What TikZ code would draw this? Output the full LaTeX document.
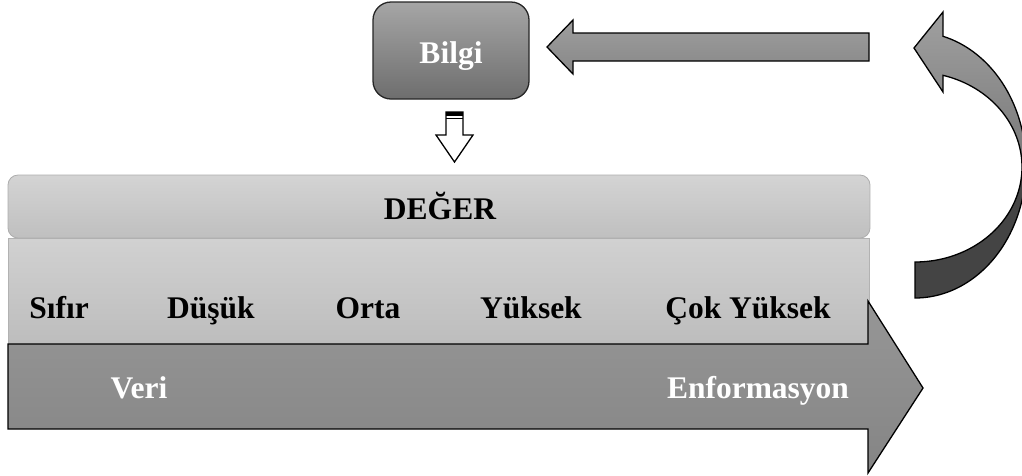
\documentclass[tikz,border=0pt]{standalone}
\usepackage{fontspec}
\setmainfont{Liberation Serif}
\definecolor{dk}{HTML}{444444}
\definecolor{md}{HTML}{7C7C7C}
\definecolor{lt}{HTML}{A0A0A0}
\pgfdeclareverticalshading{curvsh}{100bp}{color(0bp)=(dk); color(48bp)=(dk); color(51bp)=(md); color(75bp)=(lt); color(100bp)=(lt)}
\tikzset{
  txt/.style={font=\fontsize{31.5}{36}\selectfont\bfseries, anchor=base, inner sep=0pt},
  wtxt/.style={txt, text=white},
  blockarrow/.style={draw=black, line width=1.3pt, line join=miter},
}
\begin{document}
\begin{tikzpicture}[x=1pt,y=-1pt]
\useasboundingbox (0,0) rectangle (1022,475);
\clip (0,0) rectangle (1022,475);
% value box
\node[name=valbox, draw=black!30, line width=0.8pt, minimum width=861pt, minimum height=106pt, inner sep=0pt,
  top color=black!18, bottom color=black!26] at (438.5,291) {};
% DEGER box
\node[name=degbox, draw=black!32, line width=0.8pt, rounded corners=10pt, minimum width=862pt, minimum height=63pt, inner sep=0pt,
  top color=black!17, bottom color=black!25] at (439,206.5) {};
% big arrow
\path[blockarrow, top color=black!41, bottom color=black!48]
  (8,344) -- (868,344) -- (868,301) -- (923,388) -- (868,473) -- (868,429) -- (8,429) -- cycle;
% Bilgi box
\node[name=bilgibox, draw=black!85, line width=1.3pt, rounded corners=18pt, minimum width=156pt, minimum height=97pt, inner sep=0pt,
  top color=black!35, bottom color=black!57] at (451,50.5) {};
% left arrow
\path[blockarrow, top color=black!38, bottom color=black!47]
  (869,33) -- (573,33) -- (573,20) -- (547,47) -- (573,74) -- (573,61) -- (869,61) -- cycle;
% small down arrow
\path[draw=black, fill=white, line width=1.3pt, line join=miter]
  (446,112) -- (463,112) -- (463,135) -- (473,135) -- (454.5,162) -- (436,135) -- (446,135) -- cycle;
\fill (446,112) rectangle (463,116);
\draw[line width=1pt] (446,118.5) -- (463,118.5);
% curved arrow
\path[draw=black, line width=1.3pt, line join=miter, shading=curvsh]
  plot[domain=-75.4:90, samples=80, smooth] ({915+111*cos(\x)},{165+133*sin(\x)})
  -- (915,262)
  -- plot[domain=90:-74.8, samples=80, smooth] ({915+107*cos(\x)},{167+95*sin(\x)})
  -- (943,92) -- (914,48) -- (943,12) -- cycle;
% texts
\node[wtxt, name=tbilgi] at (451,63) {Bilgi};
\node[txt, name=tdeger] at (440,219) {DEĞER};
\node[txt, name=tsifir] at (59,318) {Sıfır};
\node[txt, name=tdusuk] at (211,318) {Düşük};
\node[txt, name=torta] at (368,318) {Orta};
\node[txt, name=tyuksek] at (531,318) {Yüksek};
\node[txt, name=tcok] at (748,318) {Çok Yüksek};
\node[wtxt, name=tveri] at (139,398) {Veri};
\node[wtxt, name=tenf] at (758,398) {Enformasyon};
\end{tikzpicture}
\end{document}
